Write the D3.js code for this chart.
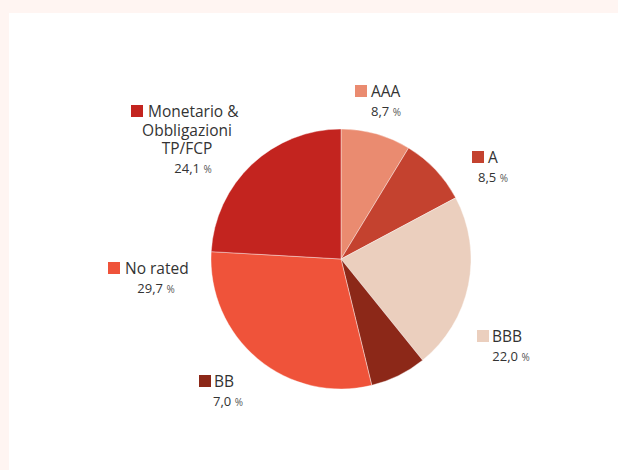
<!DOCTYPE html>
<html>
<head>
<meta charset="utf-8">
<script src="https://cdn.jsdelivr.net/npm/d3@7"></script>
<style>
  html, body { margin: 0; padding: 0; background: #ffffff; }
  svg { display: block; }
  text { font-family: "Open Sans", "Noto Sans", sans-serif; fill: #333333; }
</style>
</head>
<body>
<svg id="chart" width="618" height="470"></svg>
<script>
// ---- data ----
const categories = ["AAA", "A", "BBB", "BB", "No rated", "Monetario & Obbligazioni TP/FCP"];
const nameLines = [["AAA"], ["A"], ["BBB"], ["BB"], ["No rated"], ["Monetario &", "Obbligazioni", "TP/FCP"]];
const values = [8.7, 8.5, 22.0, 7.0, 29.7, 24.1];
const valueLabels = ["8,7", "8,5", "22,0", "7,0", "29,7", "24,1"];
const colors = ["#ea8b70", "#c4422f", "#ebcfbe", "#8c2818", "#ef533a", "#c3241f"];

// ---- layout (label anchors: square left x, first baseline y, name center, percent center) ----
const labelLayout = [
  { sq: 355, base: 97, mode: "left", nx: 371, px: 386 },
  { sq: 472, base: 163, mode: "left", nx: 488, px: 493 },
  { sq: 477, base: 342, mode: "left", nx: 492, px: 511 },
  { sq: 199, base: 387, mode: "left", nx: 214, px: 228 },
  { sq: 108, base: 274, mode: "left", nx: 125, px: 156 },
  { sq: 131, base: 117, mode: "center", nx: 187, px: 193 }
];

const svg = d3.select("#chart");
const W = 618, H = 470;

// background frame
svg.append("rect").attr("x", 0).attr("y", 0).attr("width", W).attr("height", H).attr("fill", "#fff5f2");
svg.append("rect").attr("x", 9).attr("y", 13).attr("width", W - 9).attr("height", H - 13).attr("fill", "#ffffff");

const cx = 341, cy = 259, R = 130;

const pie = d3.pie().value(d => d).sort(null);
const arc = d3.arc().innerRadius(0).outerRadius(R);

const g = svg.append("g").attr("transform", `translate(${cx},${cy})`);
g.selectAll("path")
  .data(pie(values))
  .join("path")
  .attr("d", arc)
  .attr("fill", (d, i) => colors[i])
  .attr("stroke", "#ffffff")
  .attr("stroke-width", 0.4);

// labels
categories.forEach((c, i) => {
  const L = labelLayout[i];
  const lines = nameLines[i];
  const lg = svg.append("g");
  lg.append("rect")
    .attr("x", L.sq).attr("y", L.base - 12)
    .attr("width", 12).attr("height", 12)
    .attr("fill", colors[i]);
  const lineH = 18.5;
  lines.forEach((ln, k) => {
    const t = lg.append("text")
      .attr("y", L.base + k * lineH)
      .attr("font-size", 15.5)
      .text(ln);
    if (L.mode === "left") {
      t.attr("x", L.nx);
    } else {
      if (k === 0) t.attr("x", L.sq + 17);
      else t.attr("x", L.nx).attr("text-anchor", "middle");
    }
  });
  const pt = lg.append("text")
    .attr("x", L.px)
    .attr("y", L.base + (lines.length - 1) * lineH + 18.5)
    .attr("text-anchor", "middle")
    .attr("font-size", 13);
  pt.append("tspan").text(valueLabels[i] + " ");
  pt.append("tspan").attr("font-size", 10).attr("fill", "#555").text("%");
});
</script>
</body>
</html>
